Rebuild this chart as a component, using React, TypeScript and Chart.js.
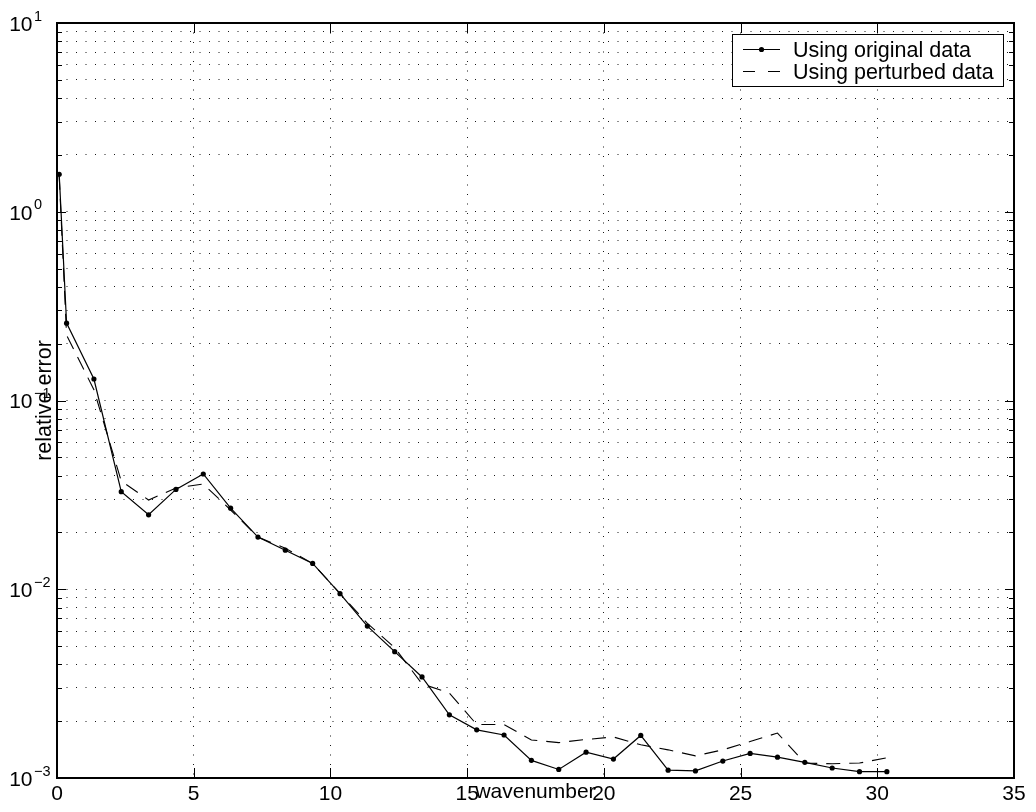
import React, { useEffect, useRef } from "react";
import { Chart, registerables } from "chart.js";

Chart.register(...registerables);

const wavenumbers = [
  0.08, 0.35, 1.35, 2.35, 3.35, 4.35, 5.35, 6.35, 7.35, 8.35, 9.35, 10.35, 11.35, 12.35, 13.35, 14.35,
  15.35, 16.35, 17.35, 18.35, 19.35, 20.35, 21.35, 22.35, 23.35, 24.35, 25.35, 26.35, 27.35, 28.35,
  29.35, 30.35,
];
const originalError = [
  1.58, 0.257, 0.13, 0.0329, 0.0248, 0.0338, 0.0408, 0.0269, 0.0189, 0.0161, 0.0137, 0.00947, 0.00638,
  0.00467, 0.00343, 0.00216, 0.0018, 0.00169, 0.00124, 0.00111, 0.00137, 0.00126, 0.00168, 0.0011,
  0.00109, 0.00123, 0.00135, 0.00129, 0.00121, 0.00113, 0.00108, 0.00108,
];
const perturbedError = [
  1.55, 0.222, 0.114, 0.0374, 0.0297, 0.0344, 0.0361, 0.0263, 0.0189, 0.0165, 0.0137, 0.0095, 0.0066,
  0.0049, 0.00315, 0.00282, 0.00192, 0.00192, 0.00159, 0.00154, 0.0016, 0.00165, 0.0015, 0.00141,
  0.00131, 0.00141, 0.00156, 0.00173, 0.0012, 0.00119, 0.0012, 0.00128,
];
const xTicks = [0, 5, 10, 15, 20, 25, 30, 35];
const yTickExponents = [-3, -2, -1, 0, 1];
const seriesLabels = ["Using original data", "Using perturbed data"];
const xTitle = "wavenumber";
const yTitle = "relative error";

const FONT = "'Liberation Sans', Arial, Helvetica, sans-serif";

const decorPlugin = {
  id: "matlabDecor",
  afterDraw(chart: any) {
    const { ctx, chartArea: a, scales } = chart;
    const xs = scales.x;
    const ys = scales.y;
    ctx.save();
    ctx.strokeStyle = "#000";
    ctx.fillStyle = "#000";

    // inward ticks
    ctx.lineWidth = 1;
    ctx.beginPath();
    for (const t of xTicks) {
      const px = Math.round(xs.getPixelForValue(t)) + 0.5;
      ctx.moveTo(px, a.bottom);
      ctx.lineTo(px, a.bottom - 10);
      ctx.moveTo(px, a.top);
      ctx.lineTo(px, a.top + 10);
    }
    for (const tk of ys.ticks) {
      const py = Math.round(ys.getPixelForValue(tk.value)) + 0.5;
      const lg = Math.log10(tk.value);
      const len = Math.abs(lg - Math.round(lg)) < 1e-9 ? 9 : 5;
      ctx.moveTo(a.left, py);
      ctx.lineTo(a.left + len, py);
      ctx.moveTo(a.right, py);
      ctx.lineTo(a.right - len, py);
    }
    ctx.stroke();

    // frame
    ctx.lineWidth = 2;
    ctx.strokeRect(Math.round(a.left), Math.round(a.top), Math.round(a.right - a.left), Math.round(a.bottom - a.top));

    // y tick labels with superscripts
    for (const e of yTickExponents) {
      const py = ys.getPixelForValue(Math.pow(10, e));
      ctx.font = `21px ${FONT}`;
      ctx.textAlign = "right";
      ctx.textBaseline = "alphabetic";
      ctx.fillText("10", 32.5, py + 7.8);
      ctx.font = `14.5px ${FONT}`;
      ctx.textAlign = "left";
      const exp = e < 0 ? "\u2212" + Math.abs(e) : String(e);
      ctx.fillText(exp, 34, py - 2.5);
    }

    // legend
    const lx = 732;
    const ly = 34;
    const lw = 271;
    const lh = 52;
    ctx.fillStyle = "#fff";
    ctx.fillRect(lx, ly, lw, lh);
    ctx.lineWidth = 1;
    ctx.strokeStyle = "#000";
    ctx.strokeRect(lx + 0.5, ly + 0.5, lw, lh);
    const rows = [49.5, 71.5];
    chart.data.datasets.forEach((ds: any, i: number) => {
      const ry = rows[i];
      ctx.save();
      ctx.strokeStyle = "#000";
      ctx.lineWidth = 1;
      ctx.setLineDash(i === 1 ? [12, 13] : []);
      ctx.beginPath();
      ctx.moveTo(743, ry);
      ctx.lineTo(780, ry);
      ctx.stroke();
      ctx.restore();
      if (i === 0) {
        ctx.fillStyle = "#000";
        ctx.beginPath();
        ctx.arc(761.5, ry, 2.6, 0, Math.PI * 2);
        ctx.fill();
      }
      ctx.fillStyle = "#000";
      ctx.font = `21.5px ${FONT}`;
      ctx.textAlign = "left";
      ctx.textBaseline = "alphabetic";
      ctx.fillText(ds.label, 793, ry + 7.5);
    });
    ctx.restore();
  },
};

export default function App() {
  const ref = useRef<HTMLCanvasElement | null>(null);
  useEffect(() => {
    document.body.style.margin = "0";
    const canvas = ref.current;
    if (!canvas) return;
    const gridDash = [1, 8.5];
    const chart = new Chart(canvas, {
      type: "line",
      data: {
        datasets: [
          {
            label: seriesLabels[0],
            data: wavenumbers.map((x, i) => ({ x, y: originalError[i] })),
            borderColor: "#000",
            backgroundColor: "#000",
            borderWidth: 1.2,
            pointRadius: 2.6,
            pointBorderWidth: 0,
            pointBackgroundColor: "#000",
            tension: 0,
            fill: false,
          },
          {
            label: seriesLabels[1],
            data: wavenumbers.map((x, i) => ({ x, y: perturbedError[i] })),
            borderColor: "#000",
            borderWidth: 1.1,
            borderDash: [14, 9],
            pointRadius: 0,
            tension: 0,
            fill: false,
          },
        ],
      },
      options: {
        responsive: false,
        animation: false,
        events: [],
        layout: { padding: { left: 0, top: 23, right: 22, bottom: 0 } },
        plugins: { legend: { display: false }, tooltip: { enabled: false }, title: { display: false } },
        scales: {
          x: {
            type: "linear",
            min: 0,
            max: 35,
            afterBuildTicks: (s: any) => {
              s.ticks = xTicks.map((v) => ({ value: v }));
            },
            afterFit: (s: any) => {
              s.height = 34;
            },
            ticks: {
              stepSize: 5,
              padding: 4,
              color: "#000",
              font: { family: FONT, size: 21 },
              maxRotation: 0,
              autoSkip: false,
            },
            grid: { color: "rgba(0,0,0,0.9)", lineWidth: 1, drawTicks: false },
            border: { display: false, dash: gridDash },
            title: {
              display: true,
              text: xTitle,
              color: "#000",
              font: { family: FONT, size: 21 },
              padding: { top: 0, bottom: 7 },
            },
          },
          y: {
            type: "logarithmic",
            min: 1e-3,
            max: 10,
            afterBuildTicks: (s: any) => {
              const t: any[] = [];
              for (let k = 0; k < yTickExponents.length - 1; k++) {
                const e = yTickExponents[k];
                for (let m = 1; m <= 9; m++) t.push({ value: m * Math.pow(10, e) });
              }
              t.push({ value: Math.pow(10, yTickExponents[yTickExponents.length - 1]) });
              s.ticks = t;
            },
            afterFit: (s: any) => {
              s.width = 57;
            },
            ticks: { display: false },
            grid: { color: "rgba(0,0,0,0.9)", lineWidth: 1, drawTicks: false },
            border: { display: false, dash: gridDash },
            title: {
              display: true,
              text: yTitle,
              color: "#000",
              font: { family: FONT, size: 21.5 },
              padding: { top: 32.5, bottom: 0 },
            },
          },
        },
      },
      plugins: [decorPlugin],
    } as any);
    return () => chart.destroy();
  }, []);
  return (
    <div style={{ width: 1036, height: 812, background: "#fff" }}>
      <canvas ref={ref} width={1036} height={812} style={{ display: "block" }} />
    </div>
  );
}
